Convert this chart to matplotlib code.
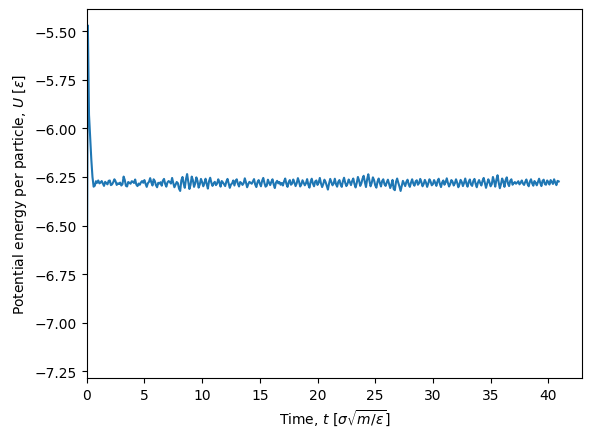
import numpy as np
import matplotlib
matplotlib.use("Agg")
import matplotlib.pyplot as plt

dt = 0.1
U = [
    -7.200, -5.470, -5.930, -6.050, -6.160, -6.250, -6.300, -6.295, -6.272, -6.280,
    -6.268, -6.283, -6.279, -6.271, -6.284, -6.296, -6.275, -6.282, -6.288, -6.270,
    -6.268, -6.292, -6.288, -6.277, -6.262, -6.272, -6.291, -6.283, -6.286, -6.279,
    -6.294, -6.287, -6.248, -6.266, -6.296, -6.299, -6.276, -6.280, -6.285, -6.272,
    -6.274, -6.281, -6.263, -6.289, -6.297, -6.284, -6.290, -6.278, -6.271, -6.280,
    -6.266, -6.285, -6.301, -6.282, -6.275, -6.256, -6.278, -6.294, -6.262, -6.271,
    -6.292, -6.303, -6.280, -6.284, -6.277, -6.295, -6.269, -6.260, -6.286, -6.300,
    -6.278, -6.271, -6.276, -6.284, -6.255, -6.281, -6.303, -6.290, -6.276, -6.282,
    -6.310, -6.322, -6.268, -6.250, -6.284, -6.306, -6.262, -6.235, -6.274, -6.312,
    -6.290, -6.248, -6.266, -6.301, -6.284, -6.252, -6.270, -6.305, -6.288, -6.260,
    -6.276, -6.298, -6.281, -6.259, -6.287, -6.310, -6.272, -6.254, -6.279, -6.296,
    -6.283, -6.275, -6.292, -6.284, -6.262, -6.278, -6.300, -6.271, -6.278, -6.287,
    -6.297, -6.274, -6.260, -6.283, -6.306, -6.289, -6.283, -6.268, -6.294, -6.270,
    -6.262, -6.285, -6.299, -6.276, -6.281, -6.291, -6.282, -6.257, -6.278, -6.303,
    -6.287, -6.275, -6.280, -6.285, -6.273, -6.261, -6.289, -6.302, -6.277, -6.266,
    -6.284, -6.298, -6.270, -6.255, -6.281, -6.300, -6.295, -6.264, -6.279, -6.292,
    -6.275, -6.262, -6.288, -6.307, -6.279, -6.270, -6.283, -6.276, -6.290, -6.281,
    -6.294, -6.273, -6.258, -6.285, -6.301, -6.277, -6.266, -6.290, -6.284, -6.263,
    -6.279, -6.297, -6.282, -6.256, -6.274, -6.299, -6.288, -6.267, -6.280, -6.293,
    -6.282, -6.261, -6.289, -6.305, -6.276, -6.259, -6.284, -6.298, -6.273, -6.268,
    -6.291, -6.279, -6.255, -6.283, -6.302, -6.286, -6.264, -6.276, -6.296, -6.315,
    -6.284, -6.260, -6.277, -6.293, -6.283, -6.259, -6.287, -6.300, -6.275, -6.266,
    -6.289, -6.301, -6.272, -6.254, -6.280, -6.297, -6.285, -6.263, -6.276, -6.292,
    -6.271, -6.258, -6.286, -6.304, -6.281, -6.250, -6.268, -6.296, -6.283, -6.259,
    -6.244, -6.276, -6.302, -6.262, -6.236, -6.270, -6.298, -6.280, -6.252, -6.266,
    -6.293, -6.305, -6.274, -6.258, -6.281, -6.299, -6.271, -6.262, -6.287, -6.296,
    -6.278, -6.264, -6.285, -6.307, -6.290, -6.265, -6.312, -6.318, -6.276, -6.258,
    -6.280, -6.299, -6.322, -6.296, -6.270, -6.283, -6.297, -6.275, -6.264, -6.288,
    -6.301, -6.279, -6.262, -6.284, -6.295, -6.273, -6.267, -6.290, -6.282, -6.260,
    -6.276, -6.298, -6.286, -6.265, -6.279, -6.301, -6.283, -6.262, -6.274, -6.293,
    -6.287, -6.266, -6.280, -6.296, -6.272, -6.259, -6.285, -6.302, -6.278, -6.268,
    -6.290, -6.277, -6.257, -6.281, -6.299, -6.286, -6.266, -6.274, -6.294, -6.283,
    -6.262, -6.279, -6.303, -6.288, -6.265, -6.276, -6.297, -6.280, -6.258, -6.284,
    -6.300, -6.275, -6.263, -6.289, -6.296, -6.271, -6.260, -6.285, -6.303, -6.279,
    -6.266, -6.282, -6.294, -6.270, -6.255, -6.281, -6.306, -6.284, -6.262, -6.277,
    -6.298, -6.287, -6.250, -6.272, -6.300, -6.264, -6.241, -6.279, -6.308, -6.286,
    -6.258, -6.274, -6.301, -6.266, -6.252, -6.284, -6.297, -6.270, -6.262, -6.290,
    -6.282, -6.276, -6.285, -6.279, -6.272, -6.288, -6.280, -6.268, -6.284, -6.291,
    -6.275, -6.263, -6.286, -6.298, -6.274, -6.262, -6.283, -6.295, -6.271, -6.280,
    -6.293, -6.276, -6.259, -6.281, -6.297, -6.270, -6.264, -6.287, -6.290, -6.268,
    -6.277, -6.289, -6.266, -6.275, -6.286, -6.262, -6.279, -6.292, -6.270, -6.273,
]
t = np.arange(len(U)) * dt

fig = plt.figure(figsize=(5.91, 4.39), dpi=100)
ax = fig.add_subplot(111)
fig.subplots_adjust(left=0.1467, right=0.9853, bottom=0.136, top=0.978)
ax.plot(t, U, color="#1f77b4", lw=1.5)
ax.set_xlim(left=0)
ax.set_xlabel(r"Time, $t$ [$\sigma\sqrt{m/\varepsilon}$]")
ax.set_ylabel(r"Potential energy per particle, $U$ [$\varepsilon$]")
fig.savefig("out.png", dpi=100)
